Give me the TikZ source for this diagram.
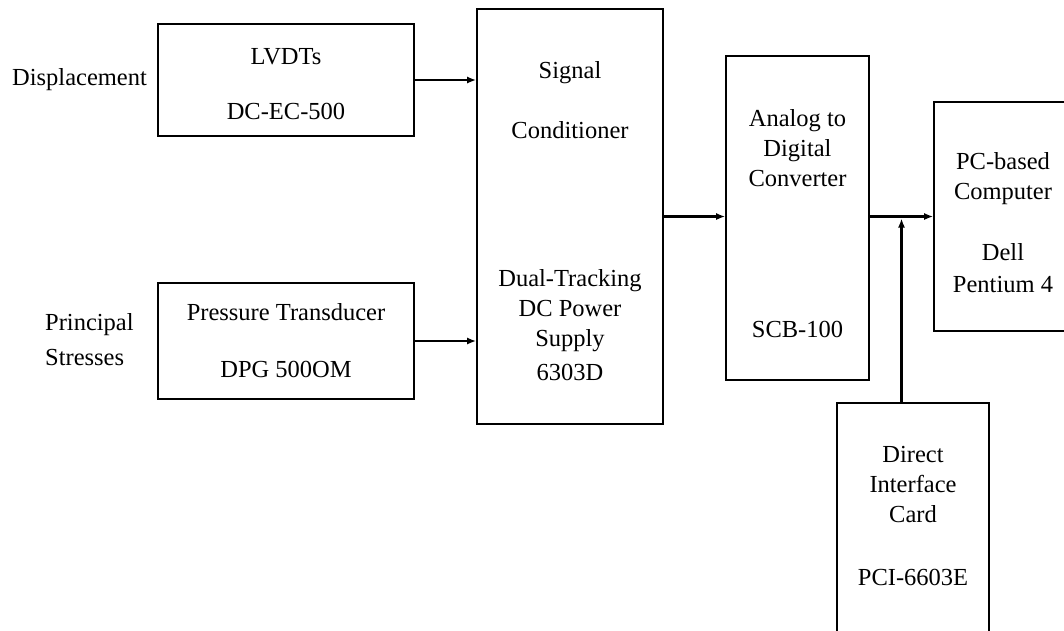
\documentclass[tikz,border=0pt]{standalone}
\usepackage{fontspec}
\setmainfont{Liberation Serif}
\usetikzlibrary{positioning,arrows.meta,calc}
\newcommand{\padtop}[1]{\rule{0pt}{#1}}
\newcommand{\padbot}[1]{\rule[-#1]{0pt}{#1}}
\tikzset{
  box/.style={draw, line width=1.6pt, align=center, inner sep=0pt, font=\fontsize{24.5}{30}\selectfont},
  lbl/.style={align=left, inner sep=0pt, font=\fontsize{24.5}{30}\selectfont},
  arr/.style={-{Latex[length=9pt,width=7pt]}, line width=2.6pt},
}
\begin{document}
\begin{tikzpicture}[x=1pt,y=-1pt]
    \useasboundingbox (0,0) rectangle (1064,630);
    % sensors
    \node[box, minimum width=256pt, minimum height=112pt] (lvdt) at (286,80)
      {\padtop{24pt}LVDTs\\[25pt] DC-EC-500};
    \node[box, minimum width=256pt, minimum height=116pt] (press) at (286,341)
      {Pressure Transducer\\[27pt] DPG 500OM};
    \node[lbl, anchor=west] (disp) at (12,80) {Displacement};
    \node[lbl, anchor=west] (stress) at (45,340) {Principal\\[5pt]Stresses};
    % conditioning and conversion
    \node[box, minimum width=186pt, minimum height=415pt] (cond) at (570,216.5)
      {\padtop{26pt}Signal\\[30pt] Conditioner\\[118pt] Dual-Tracking\\ DC Power\\ Supply\\[4pt] 6303D};
    \node[box, minimum width=143pt, minimum height=324pt] (adc) at (797.5,218)
      {\padtop{28pt}Analog to\\ Digital\\ Converter\\[121pt] SCB-100};
    % computer side
    \node[box, minimum width=138pt, minimum height=229pt] (pc) at (1003,216.5)
      {\padtop{30pt}PC-based\\ Computer\\[31pt] Dell\\[2pt] Pentium 4};
    \node[box, minimum width=152pt, minimum height=244pt] (card) at (913,525)
      {Direct\\ Interface\\ Card\\[33pt] PCI-6603E\padbot{18pt}};
    \draw[arr] (lvdt.east) -- (lvdt.east -| cond.west);
    \draw[arr] (press.east) -- (press.east -| cond.west);
    \draw[arr] (cond.east) -- (cond.east -| adc.west);
    \draw[arr] (adc.east |- cond.east) -- (cond.east -| pc.west);
    \coordinate (tap) at ($(adc.east |- cond.east)!0.5!(cond.east -| pc.west)$);
    \draw[arr, shorten >=2pt] (tap |- card.north) -- (tap);
\end{tikzpicture}
\end{document}
